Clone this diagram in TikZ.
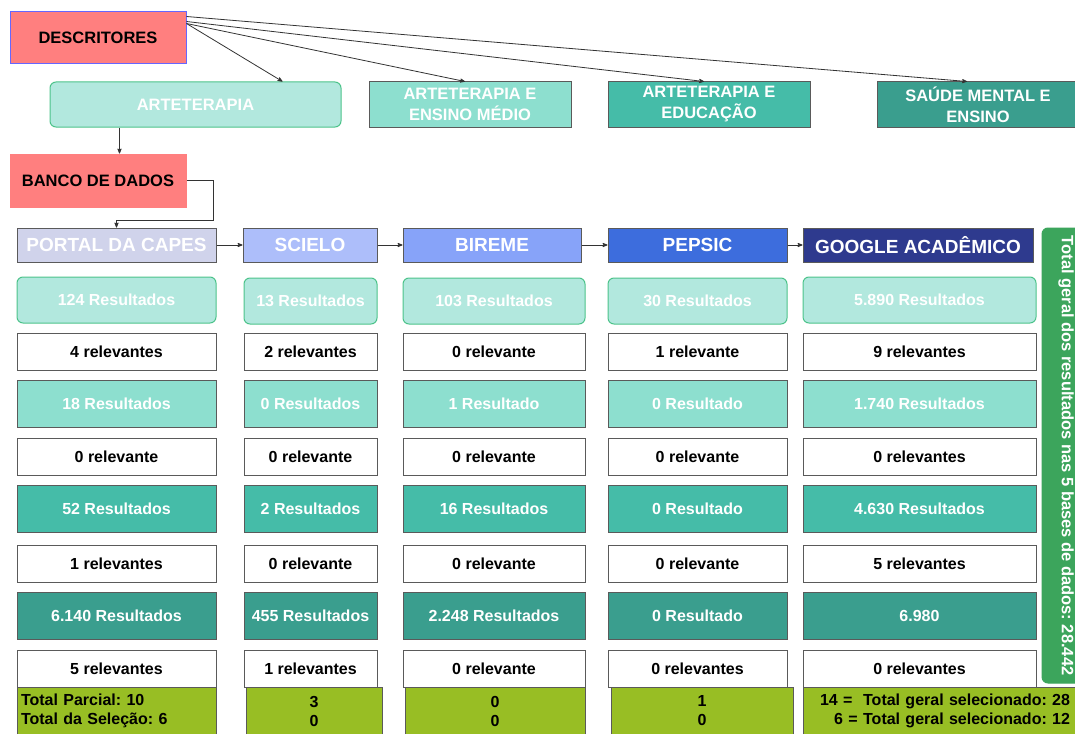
\documentclass[tikz,border=0pt]{standalone}
\usepackage{fontspec}
\setmainfont{Liberation Sans}
\usepackage{tikz}
\usetikzlibrary{calc}
\usetikzlibrary{arrows,shapes,positioning}
\frenchspacing

\definecolor{salmao}{HTML}{FF7F7F}
\definecolor{menta}{HTML}{B2E8DE}
\definecolor{mentaborda}{HTML}{4CC38A}
\definecolor{verdeagua}{HTML}{8DDFCF}
\definecolor{turquesa}{HTML}{45BCA8}
\definecolor{petroleo}{HTML}{3A9E8E}
\definecolor{capescor}{HTML}{D0D3EB}
\definecolor{scielocor}{HTML}{ADBEFA}
\definecolor{biremecor}{HTML}{87A3F9}
\definecolor{pepsiccor}{HTML}{3D6DDD}
\definecolor{googlecor}{HTML}{2E3A8E}
\definecolor{oliva}{HTML}{98BE24}
\definecolor{verdetotal}{HTML}{3CA55C}
\definecolor{borda}{HTML}{5A5A5A}

\newcommand{\Txt}{\bfseries\fontsize{16}{19}\selectfont}
\newcommand{\TxtDescr}{\bfseries\fontsize{16.5}{21}\selectfont}
\newcommand{\TxtBase}{\bfseries\fontsize{19}{21}\selectfont}

\tikzset{
  caixa/.style={draw=borda, line width=1pt, inner sep=0pt, font=\Txt},
  titulo/.style={caixa, fill=salmao, text=black, font=\TxtDescr},
  descritor/.style={caixa, text=white, align=center, font=\TxtDescr},
  base/.style={caixa, font=\TxtBase, text=white, minimum height=34pt},
  res1/.style={caixa, draw=mentaborda, fill=menta, rounded corners=6pt, text=white, minimum height=46pt},
  res2/.style={caixa, fill=verdeagua, text=white, minimum height=47pt},
  res3/.style={caixa, fill=turquesa, text=white, minimum height=47pt},
  res4/.style={caixa, fill=petroleo, text=white, minimum height=47pt},
  relev/.style={caixa, fill=white, text=black, minimum height=37pt},
  soma/.style={caixa, fill=oliva, text=black, minimum height=48pt, align=center},
  liga/.style={->, line width=0.8pt, draw=black!80},
}

\begin{document}
\begin{tikzpicture}[x=1pt,y=-1pt,>=stealth']
  \clip (0,0) rectangle (1075,733);

  % descritores
  \node[titulo, draw=blue!60, minimum width=176pt, minimum height=52pt] (descr) at (98,38) {DESCRITORES};
  \node[descritor, draw=mentaborda, fill=menta, rounded corners=6pt, minimum width=291pt, minimum height=45pt] (arte) at (195.5,104.5) {ARTETERAPIA};
  \node[descritor, fill=verdeagua, minimum width=202pt, minimum height=45pt] (medio) at (470,104.5) {ARTETERAPIA E\\ENSINO MÉDIO};
  \node[descritor, fill=turquesa, minimum width=202pt, minimum height=45pt] (educ) at (709,104.5) {ARTETERAPIA E\\EDUCAÇÃO};
  \node[descritor, fill=petroleo, minimum width=202pt, minimum height=45pt] (saude) at (978,104.5) {SAÚDE MENTAL E\\ENSINO};

  \draw[liga] ($(descr.north east)+(0,12)$) -- ($(arte.north)+(87,0)$);
  \draw[liga] ($(descr.north east)+(0,12)$) -- ($(medio.north)+(-5,0)$);
  \draw[liga] ($(descr.north east)+(0,10)$) -- ($(educ.north)+(-5,0)$);
  \draw[liga] ($(descr.north east)+(0,5)$) -- ($(saude.north)+(-11,0)$);

  % banco de dados
  \node[titulo, draw=salmao, minimum width=176pt, minimum height=53pt] (banco) at (98,180.5) {BANCO DE DADOS};
  \coordinate (ab) at ($(arte.south west)+(70,0)$);
  \draw[liga] (ab) -- (ab |- banco.north);

  % bases
  \node[base, fill=capescor, minimum width=199pt] (capes) at (116.5,245) {PORTAL DA CAPES};
  \node[base, fill=scielocor, minimum width=134pt] (scielo) at (310,245) {SCIELO};
  \node[base, fill=biremecor, minimum width=178pt] (bireme) at (492,245) {BIREME};
  \node[base, fill=pepsiccor, minimum width=179pt] (pepsic) at (697.5,245) {PEPSIC};
  \node[base, fill=googlecor, minimum width=230pt] (google) at (918,245) {GOOGLE ACADÊMICO};

  \draw[liga] (banco.east) -- ++(27,0) |- ($(capes.north)+(0,-7)$) -- (capes.north);
  \draw[liga] (capes) -- (scielo);
  \draw[liga] (scielo) -- (bireme);
  \draw[liga] (bireme) -- (pepsic);
  \draw[liga] (pepsic) -- (google);

  % arteterapia
  \node[res1, minimum width=199pt] (capesA) at (116.5,300) {124 Resultados};
  \node[res1, minimum width=133pt] (scieloA) at (310.5,301) {13 Resultados};
  \node[res1, minimum width=182pt] (biremeA) at (494,301) {103 Resultados};
  \node[res1, minimum width=179pt] (pepsicA) at (697.5,301) {30 Resultados};
  \node[res1, minimum width=233pt] (googleA) at (919.5,300) {5.890 Resultados};

  \node[relev, minimum width=199pt] (capesAr) at (116.5,351.5) {4 relevantes};
  \node[relev, minimum width=133pt] (scieloAr) at (310.5,351.5) {2 relevantes};
  \node[relev, minimum width=182pt] (biremeAr) at (494,351.5) {0 relevante};
  \node[relev, minimum width=179pt] (pepsicAr) at (697.5,351.5) {1 relevante};
  \node[relev, minimum width=233pt] (googleAr) at (919.5,351.5) {9 relevantes};

  % arteterapia e ensino medio
  \node[res2, minimum width=199pt] (capesB) at (116.5,403.5) {18 Resultados};
  \node[res2, minimum width=133pt] (scieloB) at (310.5,403.5) {0 Resultados};
  \node[res2, minimum width=182pt] (biremeB) at (494,403.5) {1 Resultado};
  \node[res2, minimum width=179pt] (pepsicB) at (697.5,403.5) {0 Resultado};
  \node[res2, minimum width=233pt] (googleB) at (919.5,403.5) {1.740 Resultados};

  \node[relev, minimum width=199pt] (capesBr) at (116.5,456.5) {0 relevante};
  \node[relev, minimum width=133pt] (scieloBr) at (310.5,456.5) {0 relevante};
  \node[relev, minimum width=182pt] (biremeBr) at (494,456.5) {0 relevante};
  \node[relev, minimum width=179pt] (pepsicBr) at (697.5,456.5) {0 relevante};
  \node[relev, minimum width=233pt] (googleBr) at (919.5,456.5) {0 relevantes};

  % arteterapia e educacao
  \node[res3, minimum width=199pt] (capesC) at (116.5,508.5) {52 Resultados};
  \node[res3, minimum width=133pt] (scieloC) at (310.5,508.5) {2 Resultados};
  \node[res3, minimum width=182pt] (biremeC) at (494,508.5) {16 Resultados};
  \node[res3, minimum width=179pt] (pepsicC) at (697.5,508.5) {0 Resultado};
  \node[res3, minimum width=233pt] (googleC) at (919.5,508.5) {4.630 Resultados};

  \node[relev, minimum width=199pt] (capesCr) at (116.5,563.5) {1 relevantes};
  \node[relev, minimum width=133pt] (scieloCr) at (310.5,563.5) {0 relevante};
  \node[relev, minimum width=182pt] (biremeCr) at (494,563.5) {0 relevante};
  \node[relev, minimum width=179pt] (pepsicCr) at (697.5,563.5) {0 relevante};
  \node[relev, minimum width=233pt] (googleCr) at (919.5,563.5) {5 relevantes};

  % saude mental e ensino
  \node[res4, minimum width=199pt] (capesD) at (116.5,615.5) {6.140 Resultados};
  \node[res4, minimum width=133pt] (scieloD) at (310.5,615.5) {455 Resultados};
  \node[res4, minimum width=182pt] (biremeD) at (494,615.5) {2.248 Resultados};
  \node[res4, minimum width=179pt] (pepsicD) at (697.5,615.5) {0 Resultado};
  \node[res4, minimum width=233pt] (googleD) at (919.5,615.5) {6.980};

  \node[relev, minimum width=199pt] (capesDr) at (116.5,668.5) {5 relevantes};
  \node[relev, minimum width=133pt] (scieloDr) at (310.5,668.5) {1 relevantes};
  \node[relev, minimum width=182pt] (biremeDr) at (494,668.5) {0 relevante};
  \node[relev, minimum width=179pt] (pepsicDr) at (697.5,668.5) {0 relevantes};
  \node[relev, minimum width=233pt] (googleDr) at (919.5,668.5) {0 relevantes};

  % totais
  \node[soma, minimum width=199pt, align=left, text width=191pt] (capesT) at (116.5,711) {Total Parcial: 10\\Total da Seleção: 6};
  \node[soma, minimum width=136pt] (scieloT) at (314,711) {3\\0};
  \node[soma, minimum width=180pt] (biremeT) at (495,711) {0\\0};
  \node[soma, minimum width=182pt] (pepsicT) at (702,711) {1\\0};
  \node[soma, minimum width=277pt, align=right, text width=257pt] (googleT) at (941.5,711) {14 =\ \ Total geral selecionado: 28\\6 = Total geral selecionado: 12\ };

  \node[caixa, draw=verdetotal, fill=verdetotal, rounded corners=6pt, minimum width=455pt, minimum height=48pt, text=white, rotate=-90, font=\bfseries\fontsize{16.5}{19}\selectfont] (totalgeral) at (1066,455.5) {Total geral dos resultados nas 5 bases de dados: 28.442};
\end{tikzpicture}
\end{document}
